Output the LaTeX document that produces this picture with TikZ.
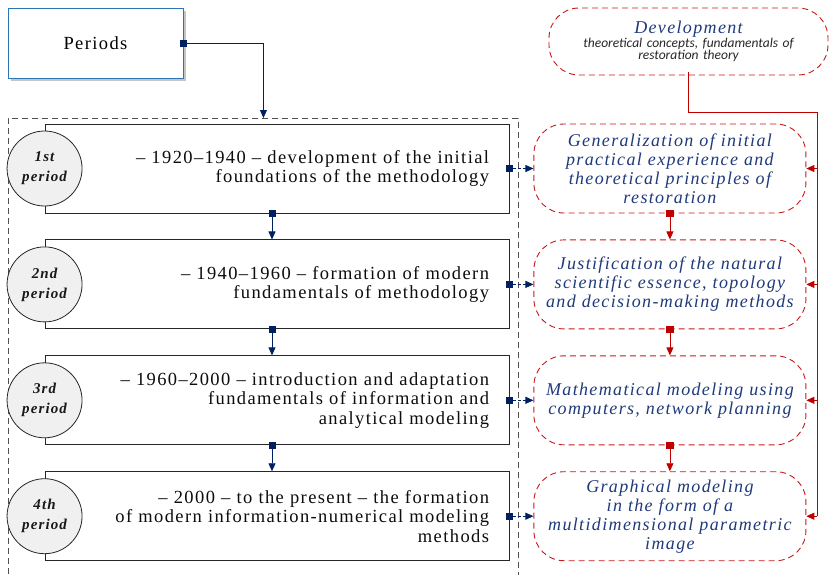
\documentclass[tikz,border=0pt]{standalone}
\usepackage{fontspec}
\usepackage{xcolor}
\usepackage{tikz}
\usetikzlibrary{arrows.meta, positioning, calc, shadows}
\setmainfont[LetterSpace=7.5]{Liberation Serif}
\newfontfamily\notefont{Carlito}
\definecolor{periodblue}{HTML}{2E75B6}
\definecolor{periodnavy}{HTML}{002060}
\definecolor{goaltext}{HTML}{1F3A7A}
\definecolor{goalred}{HTML}{C00000}
\definecolor{framegray}{HTML}{505050}
\definecolor{circlefill}{HTML}{F0F0F0}

\begin{document}
\begin{tikzpicture}[
        x=1pt, y=-1pt,
        navyarrow/.style={{Square[length=7pt,width=7pt]}-{Triangle[length=8pt,width=7pt]}, line width=0.8pt, periodnavy, shorten <=-3.5pt},
        linkarrow/.style={navyarrow, dash pattern=on 3pt off 2pt},
        redarrow/.style={-{Triangle[length=8pt,width=7pt]}, line width=0.8pt, goalred},
        redlink/.style={redarrow, {Square[length=7pt,width=7pt]}-{Triangle[length=8pt,width=7pt]}, shorten <=-3.5pt},
        periodsbox/.style={draw=periodblue, line width=0.9pt, fill=white, minimum width=175pt, minimum height=70pt, font=\rmfamily\fontsize{18.5}{19}\selectfont, drop shadow={shadow xshift=2.5pt, shadow yshift=-2.5pt, fill=black!45}},
        stagebox/.style={draw=black!85, line width=0.9pt, fill=white, minimum height=89pt, text width=424pt, inner xsep=20pt, align=right, text=black!95, font=\rmfamily\fontsize{18.5}{19.5}\selectfont},
        periodcircle/.style={circle, draw=black!85, line width=0.8pt, fill=circlefill, minimum size=75pt, inner sep=0pt, align=center, text=black!90, font=\rmfamily\fontsize{15}{20}\selectfont\bfseries\itshape},
        goalbox/.style={draw=goalred!90, dash pattern=on 6pt off 4pt, line width=0.9pt, rounded corners=30pt, minimum height=89pt, text width=262pt, inner xsep=5pt, align=center, text=goaltext, font=\rmfamily\fontsize{18}{19}\selectfont\itshape},
        devbox/.style={goalbox, minimum height=67pt, text width=269pt, font=\notefont\fontsize{13.5}{12}\selectfont\itshape}
    ]
        \useasboundingbox (0,0) rectangle (829,574);
        \clip (0,0) rectangle (829,574);

        % periods and the frame round the four stages
        \node (periods) [periodsbox] at (95.5,43) {Periods};
        \node (frame) [draw=framegray, line width=0.9pt, dash pattern=on 6pt off 4pt, minimum width=510pt, minimum height=490pt, anchor=north west] at (8,118) {};

        \node (s1) [stagebox] at (277,168.5) {-- 1920--1940 -- development of the initial\\foundations of the methodology};
        \node (s2) [stagebox, below=26pt of s1] {-- 1940--1960 -- formation of modern\\fundamentals of methodology};
        \node (s3) [stagebox, below=26pt of s2] {-- 1960--2000 -- introduction and adaptation\\fundamentals of information and\\analytical modeling};
        \node (s4) [stagebox, below=26pt of s3] {-- 2000 -- to the present -- the formation\\of modern information-numerical modeling\\methods};

        \node (c1) [periodcircle] at (s1.west) {1st\\period};
        \node (c2) [periodcircle] at (s2.west) {2nd\\period};
        \node (c3) [periodcircle] at (s3.west) {3rd\\period};
        \node (c4) [periodcircle] at (s4.west) {4th\\period};

        % results of each period
        \node (dev) [devbox] at (688.5,41.5) {{\rmfamily\fontsize{18}{19}\selectfont Development}\\\color{black!85}theoretical concepts, fundamentals of\\restoration theory};
        \node (g1) [goalbox, right=24pt of s1] {Generalization of initial\\practical experience and\\theoretical principles of\\restoration};
        \node (g2) [goalbox, right=24pt of s2] {Justification of the natural\\scientific essence, topology\\and decision-making methods};
        \node (g3) [goalbox, right=24pt of s3] {Mathematical modeling using\\computers, network planning};
        \node (g4) [goalbox, right=24pt of s4] {Graphical modeling\\in the form of a\\multidimensional parametric\\image};

        \draw [navyarrow] (periods.east) -| (frame.north);
        \draw [navyarrow] ([xshift=-5pt]s1.south) -- ([xshift=-5pt]s2.north);
        \draw [navyarrow] ([xshift=-5pt]s2.south) -- ([xshift=-5pt]s3.north);
        \draw [navyarrow] ([xshift=-5pt]s3.south) -- ([xshift=-5pt]s4.north);

        \draw [linkarrow] (s1.east) -- (g1.west);
        \draw [linkarrow] (s2.east) -- (g2.west);
        \draw [linkarrow] (s3.east) -- (g3.west);
        \draw [linkarrow] (s4.east) -- (g4.west);

        \draw [redlink] (g1.south) -- (g2.north);
        \draw [redlink] (g2.south) -- (g3.north);
        \draw [redlink] (g3.south) -- (g4.north);

        \coordinate (trunk) at (817,112);
        \draw [redlink, -] (dev.south) |- (trunk) -- (trunk |- g4.east);
        \draw [redarrow] (trunk |- g1.east) -- (g1.east);
        \draw [redarrow] (trunk |- g2.east) -- (g2.east);
        \draw [redarrow] (trunk |- g3.east) -- (g3.east);
        \draw [redarrow] (trunk |- g4.east) -- (g4.east);
    \end{tikzpicture}
\end{document}
